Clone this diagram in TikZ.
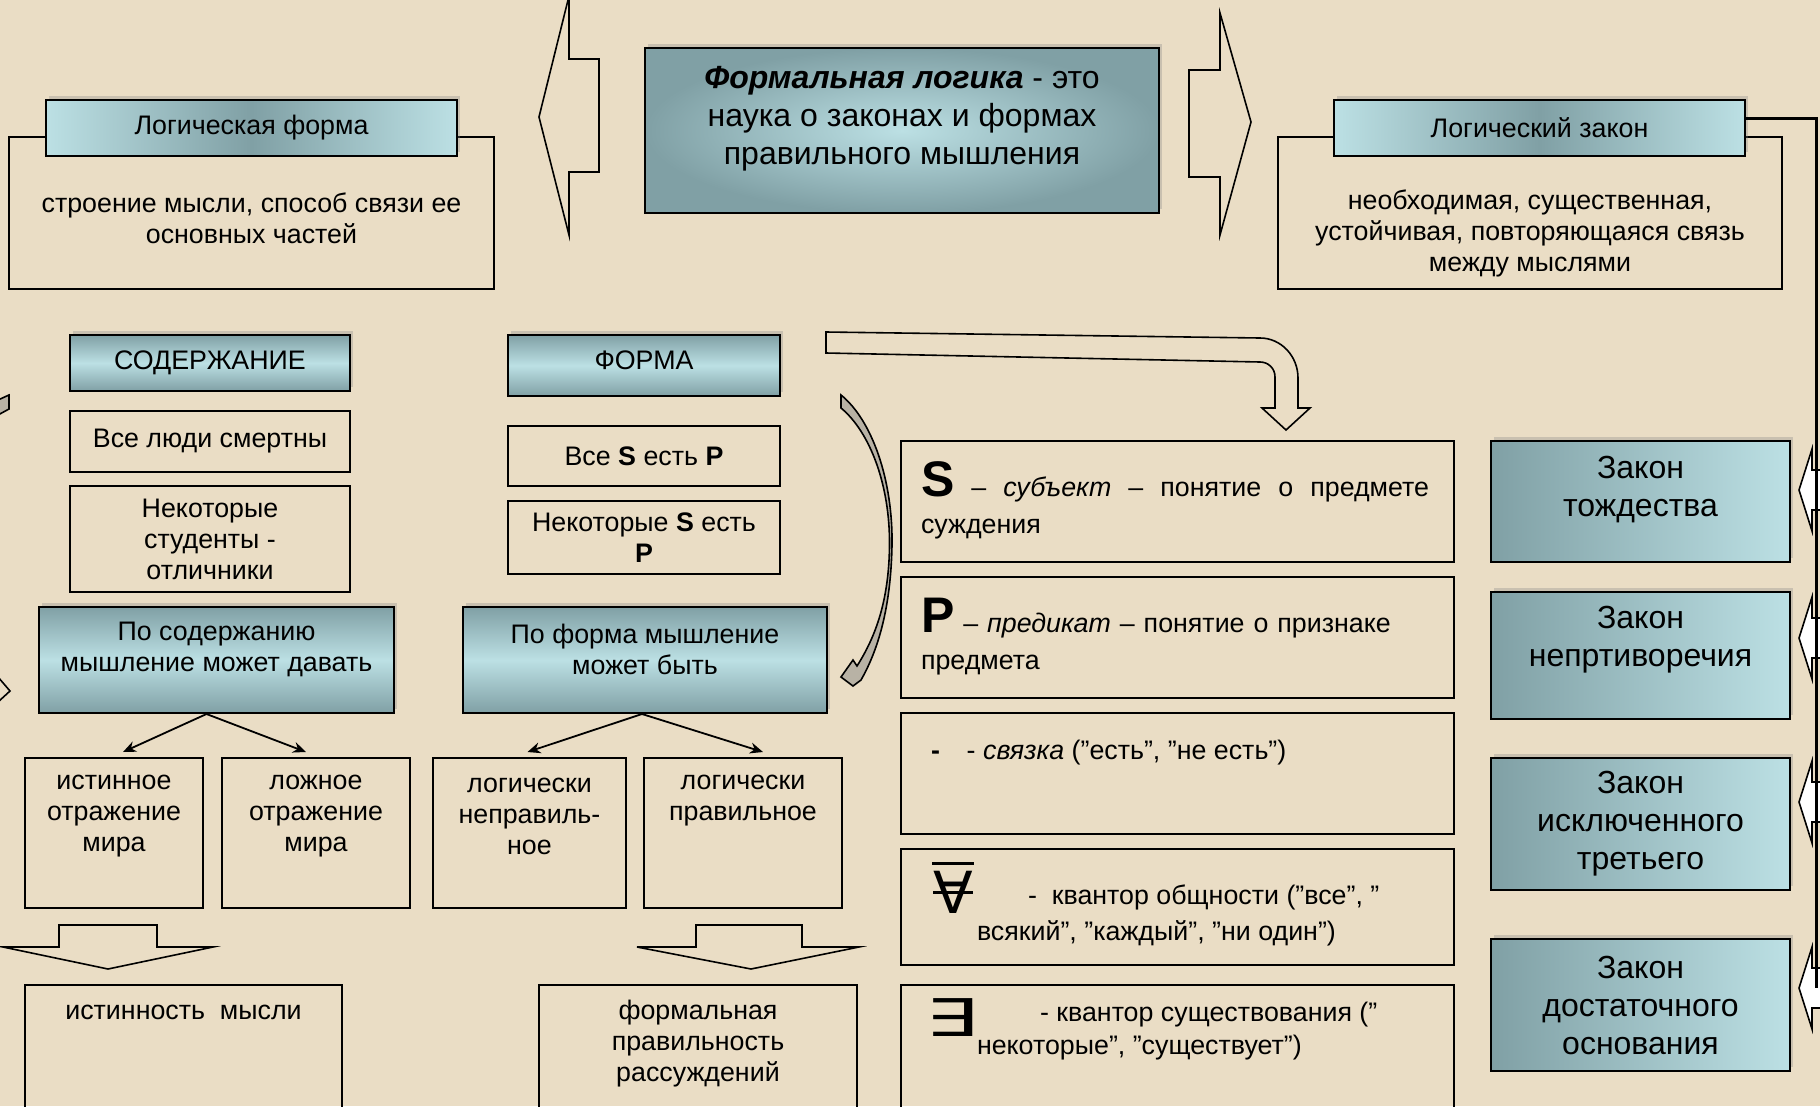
\documentclass[tikz,border=0pt]{standalone}
\usepackage{fontspec}
\usepackage{graphicx}
\setmainfont{Liberation Sans}
\newfontfamily\quantfont{DejaVu Sans}
\usetikzlibrary{arrows.meta,shadows}
\definecolor{parchment}{RGB}{234,221,197}
\definecolor{tealdark}{RGB}{128,160,165}
\definecolor{teallight}{RGB}{188,224,228}
\definecolor{arrowgray}{RGB}{184,178,165}

\begin{document}
\begin{tikzpicture}[x=1pt,y=-1pt,line width=2pt,font=\fontsize{26.8pt}{31pt}\selectfont]
        %
        % `plainbox' is used for the open frames.
        % `headbox', `vbox' and `lawbox' are the shaded boxes.
        % `hollow' is used for the outlined block arrows.
        \tikzstyle{plainbox} = [draw,inner sep=0pt,align=center]
        \tikzstyle{tealbase} = [draw,inner sep=0pt,align=center,drop shadow={opacity=0.3,shadow xshift=3pt,shadow yshift=4pt}]
        \tikzstyle{headbox} = [tealbase,left color=teallight,right color=teallight,middle color=tealdark]
        \tikzstyle{vbox} = [tealbase,top color=tealdark,bottom color=tealdark,middle color=teallight]
        \tikzstyle{lawbox} = [tealbase,left color=tealdark,right color=teallight,font=\fontsize{32pt}{38pt}\selectfont]
        \tikzstyle{txt} = [align=center,inner sep=0pt]
        \tikzstyle{bigtxt} = [txt,font=\fontsize{32pt}{38pt}\selectfont]
        \tikzstyle{linetxt} = [anchor=west,inner sep=0pt]
        \tikzstyle{hollow} = [draw,line width=1.6pt]
        \tikzstyle{thinarrow} = [-{Stealth[length=13pt,width=11pt]},line width=1.8pt]
        %
        % Background
        \useasboundingbox (0,0) rectangle (1820,1106);
        \fill[parchment] (0,0) rectangle (1820,1106);
        \clip (0,0) rectangle (1820,1106);
        %
        % Top row
        \node[plainbox,minimum width=485pt,minimum height=152pt] (lfbox) at (251.5,213) {};
        \node[headbox,minimum width=411pt,minimum height=56pt] (lfhead) at (251.5,128) {Логическая форма};
        \node[txt] (lftext) at (251.5,218) {строение мысли, способ связи ее\\основных частей};
        \node[tealbase,inner color=teallight,outer color=tealdark,minimum width=514pt,minimum height=165pt] (flogic) at (902,130.5) {};
        \node[bigtxt] (flogictext) at (902,118.5) {\textbf{\textit{Формальная логика}} - это\\наука о законах и формах\\правильного мышления};
        \node[plainbox,minimum width=504pt,minimum height=152pt] (lzbox) at (1530,213) {};
        \node[headbox,minimum width=411pt,minimum height=56pt] (lzhead) at (1539.5,128) {Логический закон};
        \node[txt] (lztext) at (1530,233) {необходимая, существенная,\\устойчивая, повторяющаяся связь\\между мыслями};
        %
        % Block arrows beside the definition
        \draw[hollow] (539,117) -- (569,-4) -- (569,59) -- (599,59) -- (599,172) -- (569,172) -- (569,235) -- cycle;
        \draw[hollow] (1251,122) -- (1220,13) -- (1220,70) -- (1189,70) -- (1189,177) -- (1220,177) -- (1220,235) -- cycle;
        %
        % Column 1: content
        \node[vbox,minimum width=280pt,minimum height=56pt] (sod) at (210,363) {СОДЕРЖАНИЕ};
        \node[plainbox,minimum width=280pt,minimum height=61pt] (ex1) at (210,441.5) {Все люди смертны};
        \node[plainbox,minimum width=280pt,minimum height=106pt] (ex2) at (210,539) {Некоторые\\студенты -\\отличники};
        \node[vbox,minimum width=355pt,minimum height=106pt] (posod) at (216.5,660) {};
        \node[txt] (posodtext) at (216.5,649) {По содержанию\\мышление может давать};
        %
        % Column 2: form
        \node[vbox,minimum width=272pt,minimum height=61pt] (forma) at (644,365.5) {};
        \node[txt] (formatext) at (644,360) {ФОРМА};
        \node[plainbox,minimum width=272pt,minimum height=60pt] (fx1) at (644,456) {Все \textbf{S} есть \textbf{P}};
        \node[plainbox,minimum width=272pt,minimum height=73pt] (fx2) at (644,537.5) {Некоторые \textbf{S} есть\\\textbf{P}};
        \node[vbox,minimum width=364pt,minimum height=106pt] (poform) at (645,660) {};
        \node[txt] (poformtext) at (645,649) {По форма мышление\\может быть};
        %
        % Leaves
        \node[plainbox,minimum width=178pt,minimum height=150pt] (ist) at (114,833) {};
        \node[txt] (isttext) at (114,816.5) {истинное\\отражение\\мира};
        \node[plainbox,minimum width=188pt,minimum height=150pt] (lozh) at (316,833) {};
        \node[txt] (lozhtext) at (316,816.5) {ложное\\отражение\\мира};
        \node[plainbox,minimum width=193pt,minimum height=150pt] (nepr) at (529.5,833) {};
        \node[txt] (neprtext) at (529.5,816.5) {логически\\неправиль-\\ное};
        \node[plainbox,minimum width=198pt,minimum height=150pt] (prav) at (743,833) {};
        \node[txt] (pravtext) at (743,801) {логически\\правильное};
        \draw[thinarrow] ([xshift=-10pt]posod.south) -- ([xshift=9pt,yshift=5pt]ist.north);
        \draw[thinarrow] ([xshift=-10pt]posod.south) -- ([xshift=-10pt,yshift=5pt]lozh.north);
        \draw[thinarrow] ([xshift=-3pt]poform.south) -- ([xshift=-2pt,yshift=5pt]nepr.north);
        \draw[thinarrow] ([xshift=-3pt]poform.south) -- ([xshift=20pt,yshift=5pt]prav.north);
        %
        % Results
        \draw[hollow] (59,925) -- (157,925) -- (157,947) -- (213,947) -- (108,969) -- (3,947) -- (59,947) -- cycle;
        \draw[hollow] (696,925) -- (802,925) -- (802,947) -- (859,947) -- (751,969) -- (637,947) -- (696,947) -- cycle;
        \node[plainbox,minimum width=317pt,minimum height=135pt] (istm) at (183.5,1052.5) {};
        \node[txt] (istmtext) at (183.5,1012) {истинность\ \ мысли};
        \node[plainbox,minimum width=318pt,minimum height=135pt] (frm) at (698,1052.5) {};
        \node[txt] (frmtext) at (698,1043.5) {формальная\\правильность\\рассуждений};
        %
        % Bent arrow and curved arrow
        \draw[hollow] (826,332) -- (1260,338) .. controls (1281,338) and (1298,356) .. (1298,378) -- (1298,408) -- (1310,408) -- (1286,430) -- (1262,408) -- (1275,408) -- (1275,377) .. controls (1275,368) and (1268,362) .. (1260,362) -- (826,353) -- cycle;
        \draw[hollow,fill=arrowgray] (841,395) .. controls (872,420) and (893,480) .. (892,545) .. controls (891,600) and (881,645) .. (861,680) -- (853,686) -- (841,677) -- (853,660) -- (857,666) .. controls (876,636) and (889,600) .. (889.5,545) .. controls (890,485) and (870,432) .. (841,408) -- cycle;
        \draw[hollow,fill=arrowgray] (-2,400) -- (9,395) -- (9,409) -- (-2,415) -- cycle;
        \draw[hollow] (-2,677) -- (10,691) -- (-2,702);
        %
        % Column 3: symbols
        \node[plainbox,minimum width=553pt,minimum height=121pt] (sbox) at (1177.5,501.5) {};
        \node[anchor=north west,inner sep=0pt,text width=508pt,align=justify,font=\fontsize{26.8pt}{37pt}\selectfont] (stext) at (920,461) {{\fontsize{50pt}{50pt}\selectfont\textbf{S}} – \textit{субъект} – понятие о предмете суждения};
        \node[plainbox,minimum width=553pt,minimum height=121pt] (pbox) at (1177.5,637.5) {};
        \node[anchor=north west,inner sep=0pt,text width=508pt,align=left,font=\fontsize{26.8pt}{37pt}\selectfont] (ptext) at (920,597) {{\fontsize{50pt}{50pt}\selectfont\textbf{P}} – \textit{предикат} – понятие о признаке\\предмета};
        \node[plainbox,minimum width=553pt,minimum height=121pt] (cbox) at (1177.5,773.5) {};
        \node[linetxt] (ctext) at (930,753) {\textbf{-}\quad- \textit{связка} (”есть”, ”не есть”)};
        \node[plainbox,minimum width=553pt,minimum height=116pt] (abox) at (1177.5,907) {};
        \node[inner sep=0pt,font=\quantfont\fontsize{58pt}{58pt}\selectfont] (forall) at (953,892) {∀};
        \draw[line width=3pt] ([yshift=6pt]forall.north west) -- ([yshift=6pt]forall.north east);
        \draw[line width=3pt] ([xshift=1pt]forall.west) -- ([xshift=-1pt]forall.east);
        \node[linetxt] (atext1) at (1027,897) {-\ \ квантор общности (”все”, ”};
        \node[linetxt] (atext2) at (976,933) {всякий”, ”каждый”, ”ни один”)};
        \node[plainbox,minimum width=553pt,minimum height=135pt] (ebox) at (1177.5,1052.5) {};
        \node[inner sep=0pt,font=\quantfont\fontsize{52pt}{52pt}\selectfont] (exists) at (952,1017.5) {\scalebox{1.6}[1]{∃}};
        \node[linetxt] (etext1) at (1039,1015) {- квантор существования (”};
        \node[linetxt] (etext2) at (976,1048) {некоторые”, ”существует”)};
        %
        % Column 4: laws
        \node[lawbox,minimum width=299pt,minimum height=121pt] (law1) at (1640.5,501.5) {};
        \node[bigtxt] (law1text) at (1640.5,490) {Закон\\тождества};
        \node[lawbox,minimum width=299pt,minimum height=127pt] (law2) at (1640.5,655.5) {};
        \node[bigtxt] (law2text) at (1640.5,640) {Закон\\непртиворечия};
        \node[lawbox,minimum width=299pt,minimum height=132pt] (law3) at (1640.5,824) {Закон\\исключенного\\третьего};
        \node[lawbox,minimum width=299pt,minimum height=132pt] (law4) at (1640.5,1005) {Закон\\достаточного\\основания};
        %
        % Arrows into the laws
        \foreach \y in {490,638,802,988} {
          \draw[hollow,fill=white] (1799,\y) -- (1812,\y-41) -- (1812,\y-20) -- (1822,\y-20) -- (1822,\y+20) -- (1812,\y+20) -- (1812,\y+41) -- cycle;
        }
        \coordinate (lawend) at (1816,988);
        \draw[line width=3pt] ([yshift=10pt]lzhead.east) -| (lawend);
        %
\end{tikzpicture}
\end{document}
